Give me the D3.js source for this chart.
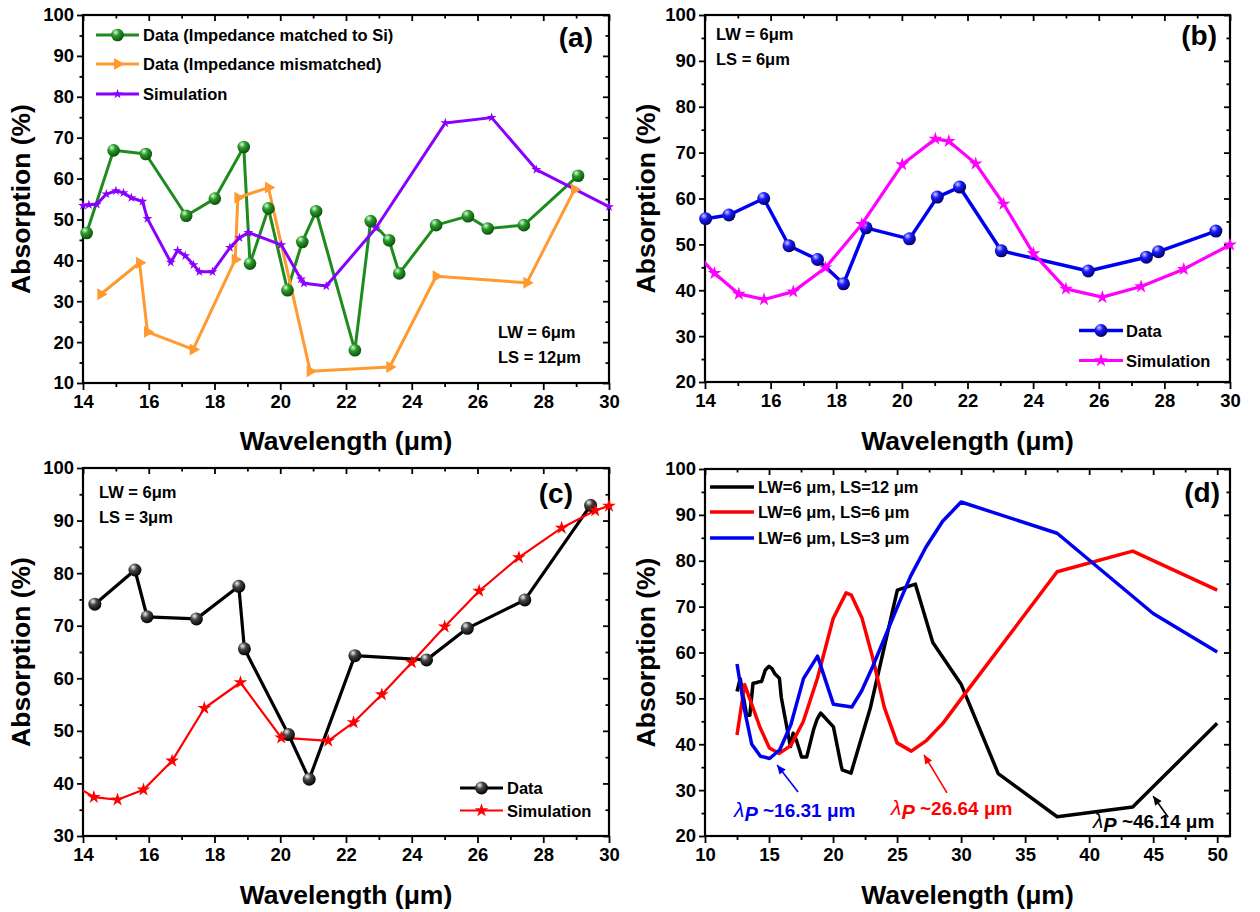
<!DOCTYPE html>
<html><head><meta charset="utf-8">
<script src="https://cdn.jsdelivr.net/npm/d3@7"></script>
<style>
html,body{margin:0;padding:0;background:#fff;}
svg{display:block;font-family:"Liberation Sans",Arial,sans-serif;font-weight:bold;}
</style></head><body>
<svg id="chart" width="1260" height="912"></svg>
<script>
// ---------------- DATA ----------------
// Panel (a)  LW = 6um, LS = 12um
const aMatchedX = [14.11,14.93,15.91,17.14,18.01,18.89,19.08,19.64,20.22,20.67,21.09,22.27,22.75,23.31,23.62,24.74,25.71,26.31,27.41,29.06];
const aMatchedY = [46.7,66.9,66.0,50.9,55.1,67.7,39.2,52.7,32.7,44.5,52.0,18.0,49.6,44.9,36.8,48.6,50.8,47.8,48.6,60.7];
const aMismatchX = [14.54,15.72,15.96,17.35,18.63,18.71,19.64,20.91,23.33,24.74,27.50,28.95];
const aMismatchY = [31.7,39.4,22.5,18.2,40.2,55.3,57.8,12.9,13.9,36.1,34.5,57.3];
const aSimX = [14.0,14.18,14.42,14.71,15.0,15.23,15.47,15.81,15.96,16.67,16.88,17.11,17.36,17.54,17.94,18.47,18.76,19.03,20.03,20.63,20.72,21.40,22.91,25.02,26.43,27.79,30.0];
const aSimY = [53.4,53.6,53.7,56.2,57.0,56.5,55.3,54.4,50.2,39.5,42.4,41.1,38.9,37.2,37.2,43.1,45.5,46.8,43.8,35.4,34.4,33.7,47.9,73.6,74.9,62.2,53.1];

// Panel (b)  LW = 6um, LS = 6um
const bDataX = [14.02,14.73,15.79,16.56,17.43,18.22,18.91,20.23,21.08,21.76,23.03,25.68,27.45,27.82,29.57];
const bDataY = [55.6,56.4,60.0,49.7,46.7,41.4,53.6,51.2,60.3,62.5,48.6,44.2,47.2,48.4,52.9];
const bSimX = [13.1,14.29,15.03,15.80,16.69,17.67,18.78,20.01,21.02,21.43,22.25,23.1,24.01,25.0,26.11,27.29,28.59,30.0];
const bSimY = [53.0,43.7,39.2,38.0,39.7,44.9,54.4,67.4,73.0,72.5,67.6,58.8,48.0,40.3,38.5,40.8,44.6,49.9];

// Panel (c)  LW = 6um, LS = 3um
const cDataX = [14.36,15.58,15.95,17.45,18.74,18.91,20.25,20.88,22.27,24.45,25.69,27.44,29.44];
const cDataY = [74.1,80.6,71.7,71.3,77.5,65.6,49.3,40.8,64.3,63.5,69.5,74.9,92.9];
const cSimX = [13.65,14.33,15.05,15.84,16.71,17.69,18.79,20.03,21.46,22.23,23.09,24.0,25.0,26.05,27.26,28.56,29.58,30.0];
const cSimY = [40.0,37.4,36.9,38.8,44.3,54.3,59.2,48.7,48.1,51.6,56.9,63.0,69.8,76.6,83.0,88.6,91.9,92.8];

// Panel (d)  simulations over the extended range
const dLS12X = [12.5,12.75,13.25,13.5,13.75,14.0,14.18,14.42,14.71,15.0,15.23,15.47,15.81,15.96,16.67,16.88,17.11,17.36,17.54,17.94,18.47,18.76,19.03,20.03,20.63,20.72,21.40,22.91,25.02,26.43,27.79,30.0,32.9,37.5,43.4,50.0];
const dLS12Y = [51.5,54.3,46.3,46.3,53.3,53.4,53.6,53.7,56.2,57.0,56.5,55.3,54.4,50.2,39.5,42.4,41.1,38.9,37.2,37.2,43.1,45.5,46.8,43.8,35.4,34.4,33.7,47.9,73.6,74.9,62.2,53.1,33.6,24.2,26.3,44.6];
const dLS6X = [12.5,13.1,14.29,15.03,15.80,16.69,17.67,18.78,20.01,21.02,21.43,22.25,23.1,24.01,25.0,26.11,27.29,28.59,30.0,37.5,43.4,50.0];
const dLS6Y = [42.0,53.0,43.7,39.2,38.0,39.7,44.9,54.4,67.4,73.0,72.5,67.6,58.8,48.0,40.3,38.5,40.8,44.6,49.9,77.6,82.1,73.6];
const dLS3X = [12.5,13.1,13.65,14.33,15.05,15.84,16.71,17.69,18.79,20.03,21.46,22.23,23.09,24.0,25.0,26.05,27.26,28.56,30.0,37.5,45.0,50.0];
const dLS3Y = [57.5,47.3,40.0,37.4,36.9,38.8,44.3,54.3,59.2,48.7,48.1,51.6,56.9,63.0,69.8,76.6,83.0,88.6,92.8,86.0,68.5,60.1];

// tick values
const xTicksA = [14,16,18,20,22,24,26,28,30];
const yTicksA = [10,20,30,40,50,60,70,80,90,100];
const yTicksB = [20,30,40,50,60,70,80,90,100];
const yTicksC = [30,40,50,60,70,80,90,100];
const xTicksD = [10,15,20,25,30,35,40,45,50];
const yTicksD = [20,30,40,50,60,70,80,90,100];

// ---------------- DRAWING ----------------
const svg = d3.select('#chart');
const defs = svg.append('defs');
const zip = (xs, ys) => xs.map((x, i) => [x, ys[i]]);

function ballGrad(id, c0, c1, c2) {
  const g = defs.append('radialGradient').attr('id', id)
    .attr('cx', '38%').attr('cy', '32%').attr('r', '70%').attr('fx', '35%').attr('fy', '28%');
  g.append('stop').attr('offset', '0%').attr('stop-color', c0);
  g.append('stop').attr('offset', '40%').attr('stop-color', c1);
  g.append('stop').attr('offset', '100%').attr('stop-color', c2);
}
ballGrad('gGreen', '#d8ffd8', '#2a9a2a', '#0a4d0a');
ballGrad('gBlue', '#d0d0ff', '#1a1aff', '#00005e');
ballGrad('gBlack', '#f4f4f4', '#444', '#000');

const COL = {green:'#1d8c1d', orange:'#ff9a30', purple:'#8a00ff', blue:'#0000f0', magenta:'#ff00ff', red:'#ff0000', black:'#000'};

let clipN = 0;
function makePanel(p) {
  const g = svg.append('g');
  const x = d3.scaleLinear().domain(p.xd).range([p.l, p.r]);
  const y = d3.scaleLinear().domain(p.yd).range([p.b, p.t]);
  const id = 'clip' + (clipN++);
  defs.append('clipPath').attr('id', id).append('rect')
    .attr('x', p.l).attr('y', p.t).attr('width', p.r - p.l).attr('height', p.b - p.t);
  const minorX = d3.range(p.xd[0], p.xd[1] + 1e-9, p.xMinor).filter(v => !p.xt.some(t => Math.abs(t - v) < 1e-9));
  const minorY = d3.range(p.yd[0], p.yd[1] + 1e-9, p.yMinor).filter(v => !p.yt.some(t => Math.abs(t - v) < 1e-9));
  const fmt = d3.format('d');
  const axG = g.append('g').attr('class', 'axes');
  axG.append('g').attr('transform', `translate(0,${p.b})`)
    .call(d3.axisBottom(x).tickValues(p.xt).tickSize(7).tickPadding(5).tickFormat(fmt));
  axG.append('g').attr('transform', `translate(0,${p.b})`)
    .call(d3.axisBottom(x).tickValues(minorX).tickSize(4).tickFormat(''));
  axG.append('g').attr('transform', `translate(0,${p.t})`)
    .call(d3.axisTop(x).tickValues(p.xt).tickSize(-6).tickFormat(''));
  axG.append('g').attr('transform', `translate(0,${p.t})`)
    .call(d3.axisTop(x).tickValues(minorX).tickSize(-3.5).tickFormat(''));
  axG.append('g').attr('transform', `translate(${p.l},0)`)
    .call(d3.axisLeft(y).tickValues(p.yt).tickSize(6).tickPadding(3).tickFormat(fmt));
  axG.append('g').attr('transform', `translate(${p.l},0)`)
    .call(d3.axisLeft(y).tickValues(minorY).tickSize(3.5).tickFormat(''));
  axG.append('g').attr('transform', `translate(${p.r},0)`)
    .call(d3.axisRight(y).tickValues(p.yt).tickSize(-6).tickFormat(''));
  axG.append('g').attr('transform', `translate(${p.r},0)`)
    .call(d3.axisRight(y).tickValues(minorY).tickSize(-3.5).tickFormat(''));
  axG.selectAll('.domain').remove();
  axG.selectAll('.tick line').attr('stroke', '#000').attr('stroke-width', 1.8);
  axG.selectAll('.tick text').attr('fill', '#000').attr('font-size', 18.5)
    .attr('font-family', '"Liberation Sans",Arial,sans-serif').attr('font-weight', 'bold');
  g.append('rect').attr('x', p.l).attr('y', p.t).attr('width', p.r - p.l).attr('height', p.b - p.t)
    .attr('fill', 'none').attr('stroke', '#000').attr('stroke-width', 2.2);
  g.append('text').attr('x', (p.l + p.r) / 2).attr('y', p.xtY).attr('text-anchor', 'middle')
    .attr('font-size', 26.5).text('Wavelength (\u03bcm)');
  g.append('text').attr('transform', `translate(${p.ytX},${(p.t + p.b) / 2}) rotate(-90)`)
    .attr('text-anchor', 'middle').attr('font-size', 26.5).text('Absorption (%)');
  g.append('text').attr('x', p.labX).attr('y', p.labY).attr('text-anchor', 'end')
    .attr('font-size', 28).text(p.label);
  const plot = g.append('g');
  const clipped = plot.append('g').attr('clip-path', `url(#${id})`);
  return {g, plot, clipped, x, y, p};
}

function drawLine(P, pts, color, w) {
  P.clipped.append('path').datum(pts)
    .attr('d', d3.line().x(d => P.x(d[0])).y(d => P.y(d[1])))
    .attr('fill', 'none').attr('stroke', color).attr('stroke-width', w)
    .attr('stroke-linejoin', 'round');
}
function markerPath(kind, size) {
  if (kind === 'star') return d3.symbol(d3.symbolStar, size)();
  if (kind === 'tri') return d3.symbol(d3.symbolTriangle, size)();
  return null;
}
function drawMarkers(P, pts, kind, color, size) {
  const inDom = pts.filter(d => d[0] >= P.x.domain()[0] - 1e-9 && d[0] <= P.x.domain()[1] + 1e-9);
  const mg = P.plot.append('g');
  if (kind === 'ball') {
    mg.selectAll('circle').data(inDom).join('circle')
      .attr('cx', d => P.x(d[0])).attr('cy', d => P.y(d[1])).attr('r', size)
      .attr('fill', `url(#${color})`);
  } else {
    const rot = kind === 'tri' ? 90 : 0;
    mg.selectAll('path').data(inDom).join('path')
      .attr('d', markerPath(kind, size))
      .attr('transform', d => `translate(${P.x(d[0])},${P.y(d[1])}) rotate(${rot})`)
      .attr('fill', color);
  }
}
function legendRow(P, x0, x1, yc, color, w, kind, mcolor, msize, label, tx) {
  const lg = P.g.append('g');
  lg.append('line').attr('x1', x0).attr('x2', x1).attr('y1', yc).attr('y2', yc)
    .attr('stroke', color).attr('stroke-width', w);
  const xm = (x0 + x1) / 2;
  if (kind === 'ball') {
    lg.append('circle').attr('cx', xm).attr('cy', yc).attr('r', msize).attr('fill', `url(#${mcolor})`);
  } else if (kind) {
    lg.append('path').attr('d', markerPath(kind, msize))
      .attr('transform', `translate(${xm},${yc}) rotate(${kind === 'tri' ? 90 : 0})`).attr('fill', mcolor);
  }
  lg.append('text').attr('x', tx).attr('y', yc + 6).attr('font-size', 16.5).text(label);
}
function note(P, x, y, lines) {
  lines.forEach((s, i) => P.g.append('text').attr('x', x).attr('y', y + i * 25).attr('font-size', 16.5).text(s));
}

// ---- Panel (a)
const A = makePanel({l:83, r:609, t:15, b:383, xd:[14,30], yd:[10,100], xt:xTicksA, yt:yTicksA,
  xMinor:1, yMinor:5, xtY:450, ytX:30, label:'(a)', labX:593, labY:47});
drawLine(A, zip(aMatchedX, aMatchedY), COL.green, 3);
drawLine(A, zip(aMismatchX, aMismatchY), COL.orange, 3);
drawLine(A, zip(aSimX, aSimY), COL.purple, 3);
drawMarkers(A, zip(aMatchedX, aMatchedY), 'ball', 'gGreen', 6.3);
drawMarkers(A, zip(aMismatchX, aMismatchY), 'tri', COL.orange, 62);
drawMarkers(A, zip(aSimX, aSimY), 'star', COL.purple, 30);
legendRow(A, 96, 139, 35, COL.green, 3, 'ball', 'gGreen', 6.3, 'Data (Impedance matched to Si)', 143);
legendRow(A, 96, 139, 64, COL.orange, 3, 'tri', COL.orange, 62, 'Data (Impedance mismatched)', 143);
legendRow(A, 96, 139, 94, COL.purple, 3, 'star', COL.purple, 30, 'Simulation', 143);
note(A, 498, 338, ['LW = 6\u03bcm', 'LS = 12\u03bcm']);

// ---- Panel (b)
const B = makePanel({l:705, r:1230, t:15, b:382, xd:[14,30], yd:[20,100], xt:xTicksA, yt:yTicksB,
  xMinor:1, yMinor:5, xtY:450, ytX:655, label:'(b)', labX:1217, labY:45});
drawLine(B, zip(bDataX, bDataY), COL.blue, 3.5);
drawLine(B, zip(bSimX, bSimY), COL.magenta, 3.2);
drawMarkers(B, zip(bDataX, bDataY), 'ball', 'gBlue', 6.5);
drawMarkers(B, zip(bSimX, bSimY), 'star', COL.magenta, 58);
legendRow(B, 1079, 1123, 330.5, COL.blue, 3.5, 'ball', 'gBlue', 6.5, 'Data', 1126);
legendRow(B, 1079, 1123, 360.5, COL.magenta, 3.2, 'star', COL.magenta, 58, 'Simulation', 1126);
note(B, 716, 40, ['LW = 6\u03bcm', 'LS = 6\u03bcm']);

// ---- Panel (c)
const C = makePanel({l:83, r:609, t:468, b:836, xd:[14,30], yd:[30,100], xt:xTicksA, yt:yTicksC,
  xMinor:1, yMinor:5, xtY:904, ytX:30, label:'(c)', labX:573, labY:503});
drawLine(C, zip(cDataX, cDataY), COL.black, 3.2);
drawLine(C, zip(cSimX, cSimY), COL.red, 2.2);
drawMarkers(C, zip(cDataX, cDataY), 'ball', 'gBlack', 6.5);
drawMarkers(C, zip(cSimX, cSimY), 'star', COL.red, 58);
legendRow(C, 460, 503, 788, COL.black, 3.2, 'ball', 'gBlack', 6.5, 'Data', 507);
legendRow(C, 460, 503, 810.5, COL.red, 2.2, 'star', COL.red, 58, 'Simulation', 507);
note(C, 99, 498, ['LW = 6\u03bcm', 'LS = 3\u03bcm']);

// ---- Panel (d)
const D = makePanel({l:705, r:1230, t:469, b:836, xd:[10,51], yd:[20,100], xt:xTicksD, yt:yTicksD,
  xMinor:2.5, yMinor:5, xtY:904, ytX:655, label:'(d)', labX:1220, labY:502});
drawLine(D, zip(dLS12X, dLS12Y), COL.black, 3.5);
drawLine(D, zip(dLS6X, dLS6Y), COL.red, 3.5);
drawLine(D, zip(dLS3X, dLS3Y), COL.blue, 3.5);
legendRow(D, 710, 754, 487, COL.black, 3.5, null, null, 0, 'LW=6 \u03bcm, LS=12 \u03bcm', 758);
legendRow(D, 710, 754, 512, COL.red, 3.5, null, null, 0, 'LW=6 \u03bcm, LS=6 \u03bcm', 758);
legendRow(D, 710, 754, 538, COL.blue, 3.5, null, null, 0, 'LW=6 \u03bcm, LS=3 \u03bcm', 758);

// plasma-wavelength annotations (d)
function annot(P, tx, ty, value, color, a1, a2) {
  const t = P.g.append('text').attr('x', P.x(tx)).attr('y', P.y(ty)).attr('font-size', 19).attr('fill', color);
  t.append('tspan').attr('font-style', 'italic').attr('font-weight', 'normal').attr('font-size', 21).text('\u03bb');
  t.append('tspan').attr('font-style', 'italic').attr('dy', 4).attr('font-size', 20).text('P');
  t.append('tspan').attr('dy', -4).text(' ~' + value + ' \u03bcm');
  const x1 = P.x(a1[0]), y1 = P.y(a1[1]), x2 = P.x(a2[0]), y2 = P.y(a2[1]);
  P.g.append('line').attr('x1', x1).attr('y1', y1).attr('x2', x2).attr('y2', y2)
    .attr('stroke', color).attr('stroke-width', 1.6);
  const ang = Math.atan2(y2 - y1, x2 - x1);
  const L = 9, Wd = 4;
  const bx = x2 - L * Math.cos(ang), by = y2 - L * Math.sin(ang);
  const px = -Math.sin(ang) * Wd, py = Math.cos(ang) * Wd;
  P.g.append('path').attr('d', `M${x2},${y2}L${bx + px},${by + py}L${bx - px},${by - py}Z`).attr('fill', color);
}
annot(D, 12.27, 24.1, '16.31', COL.blue, [17.27, 29.6], [15.63, 35.5]);
annot(D, 24.53, 24.6, '26.64', COL.red, [28.9, 29.4], [27.1, 37.7]);
annot(D, 40.3, 21.7, '46.14', COL.black, [46.17, 24.1], [45.0, 28.7]);
</script>
</body></html>
